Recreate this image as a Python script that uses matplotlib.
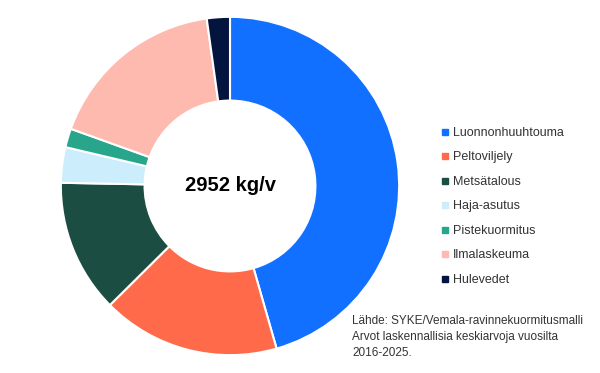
import matplotlib.pyplot as plt
from matplotlib.lines import Line2D

plt.rcParams['font.family'] = ['Liberation Sans', 'DejaVu Sans']

# kuormitus lähteittäin, kg/v
labels = ['Luonnonhuuhtouma', 'Peltoviljely', 'Metsätalous', 'Haja-asutus',
          'Pistekuormitus', 'Ilmalaskeuma', 'Hulevedet']
values = [1345, 502, 376, 100, 53, 511, 65]
colors = ['#1170ff', '#ff6b4a', '#1b4d43', '#ccedfb', '#28a68c', '#ffbab0', '#03143f']
total_text = '2952 kg/v'
source_text = ('Lähde: SYKE/Vemala-ravinnekuormitusmalli\n'
               'Arvot laskennallisia keskiarvoja vuosilta\n'
               '2016-2025.')

fig = plt.figure(figsize=(6, 3.73), dpi=100)
ax = fig.add_axes([0.1, 0.0456, 0.5667, 0.9115])

ax.pie(values, colors=colors, startangle=90, counterclock=False,
       radius=1.0,
       wedgeprops=dict(width=0.495, edgecolor='white', linewidth=1.5))
ax.set_xlim(-1.005, 1.005)
ax.set_ylim(-1.005, 1.005)
ax.set_aspect('equal')
ax.text(0, 0, total_text, ha='center', va='center',
        fontsize=14.5, fontweight='bold', color='black')

handles = [Line2D([], [], marker='s', linestyle='', markersize=4,
                  markerfacecolor=c, markeredgecolor=c) for c in colors]
fig.legend(handles, labels, loc='upper left', bbox_to_anchor=(0.713, 0.69),
           frameon=False, fontsize=9, labelspacing=1.0,
           handletextpad=0.1, handlelength=1.0, labelcolor='#333333')

fig.text(0.587, 0.155, source_text, ha='left', va='top',
         fontsize=8.5, color='#333333', linespacing=1.45)

fig.savefig('out.png', dpi=100)
